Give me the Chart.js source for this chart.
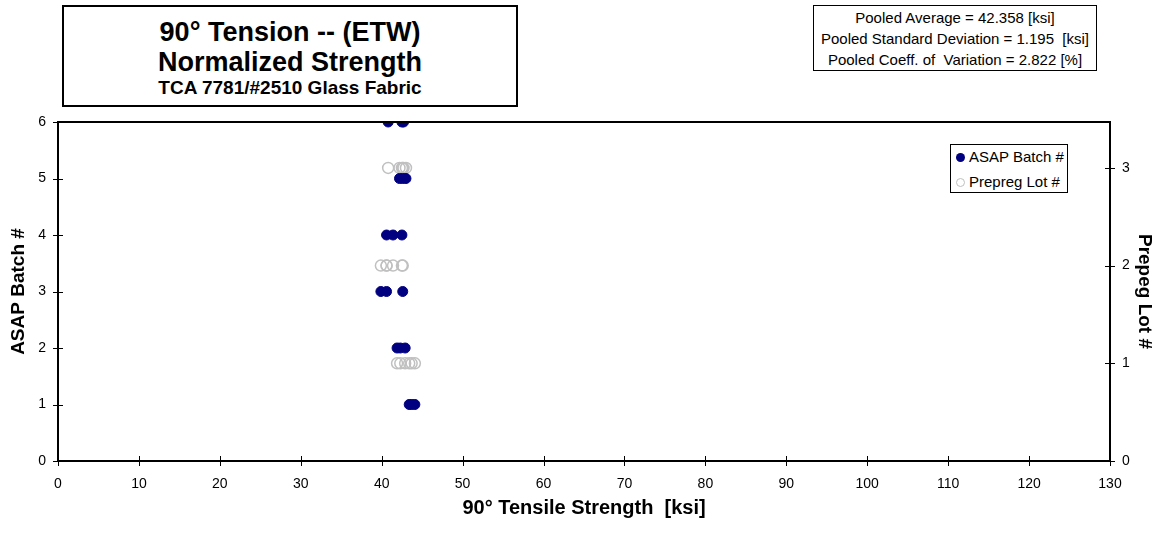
<!DOCTYPE html>
<html>
<head>
<meta charset="utf-8">
<script src="https://cdn.jsdelivr.net/npm/chart.js@4.4.0/dist/chart.umd.min.js"></script>
<style>
  body { margin: 0; background: #fff; font-family: "Liberation Sans", Arial, sans-serif; }
  #wrap { position: relative; width: 1160px; height: 534px; }
  #c { position: absolute; left: 0; top: 0; }
  .box { position: absolute; border: 2px solid #000; background: #fff; box-sizing: border-box; text-align: center; color: #000; }
  #titleBox { left: 62px; top: 5px; width: 456px; height: 102px; font-weight: bold; }
  #titleBox .l1 { position: absolute; left: 0; right: 0; top: 10px; font-size: 27px; line-height: 30px; }
  #titleBox .l2 { position: absolute; left: 0; right: 0; top: 40px; font-size: 27px; line-height: 30px; }
  #titleBox .l3 { position: absolute; left: 0; right: 0; top: 70px; font-size: 19px; line-height: 22px; }
  #statBox { left: 813px; top: 5px; width: 284px; height: 66px; border-width: 1.5px; font-size: 15px; white-space: pre; }
  #statBox div { position: absolute; left: 0; right: 0; line-height: 18px; }
  #legendBox { left: 950px; top: 144px; width: 118px; height: 49px; border-width: 1.5px; font-size: 15px; text-align: left; }
  #legendBox .row { position: absolute; left: 5px; height: 18px; line-height: 18px; white-space: nowrap; }
  #legendBox .mk { display: inline-block; width: 9px; height: 9px; border-radius: 50%; box-sizing: border-box; margin-right: 4px; vertical-align: 0px; }
</style>
</head>
<body>
<div id="wrap">
  <canvas id="c" width="1160" height="534"></canvas>
  <div id="titleBox" class="box">
    <div class="l1">90° Tension -- (ETW)</div>
    <div class="l2">Normalized Strength</div>
    <div class="l3">TCA 7781/#2510 Glass Fabric</div>
  </div>
  <div id="statBox" class="box"></div>
  <div id="legendBox" class="box"></div>
</div>
<script>
// ASAP batch points (strength in ksi, batch number on left axis)
var batchStrength = [40.8, 42.5, 42.7, 42.2, 42.6, 43.0, 40.6, 41.4, 42.5, 39.9, 40.6, 42.6, 41.9, 42.3, 42.9, 43.4, 43.7, 44.1];
var batchNum      = [6, 6, 6, 5, 5, 5, 4, 4, 4, 3, 3, 3, 2, 2, 2, 1, 1, 1];

// Prepreg lot points (strength in ksi, lot number on right axis)
var lotStrength = [40.8, 42.2, 42.5, 42.6, 42.7, 43.0, 39.9, 40.6, 40.6, 41.4, 42.5, 42.6, 41.9, 42.3, 42.9, 43.4, 43.7, 44.1];
var lotNum      = [3, 3, 3, 3, 3, 3, 2, 2, 2, 2, 2, 2, 1, 1, 1, 1, 1, 1];

var statLines = [
  'Pooled Average = 42.358 [ksi]',
  'Pooled Standard Deviation = 1.195  [ksi]',
  'Pooled Coeff. of  Variation = 2.822 [%]'
];

var FONT = '"Liberation Sans", Arial, sans-serif';
Chart.defaults.font.family = FONT;
Chart.defaults.color = '#000';

function toPoints(xs, ys) {
  var pts = [];
  for (var i = 0; i < xs.length; i++) pts.push({x: xs[i], y: ys[i]});
  return pts;
}

// stats text
var statBox = document.getElementById('statBox');
var statTops = [3, 24, 45];
statLines.forEach(function (t, i) {
  var d = document.createElement('div');
  d.textContent = t;
  d.style.top = statTops[i] + 'px';
  statBox.appendChild(d);
});

// frame round the plot and tick marks that cross the axis lines
var framePlugin = {
  id: 'frame',
  afterDraw: function (chart) {
    var ctx = chart.ctx, a = chart.chartArea;
    ctx.save();
    ctx.strokeStyle = '#000';
    ctx.lineWidth = 2;
    ctx.strokeRect(a.left, a.top, a.right - a.left, a.bottom - a.top);
    ctx.lineWidth = 1;
    ctx.beginPath();
    chart.scales.x.ticks.forEach(function (t) {
      var px = Math.round(chart.scales.x.getPixelForValue(t.value)) + 0.5;
      ctx.moveTo(px, a.bottom - 5); ctx.lineTo(px, a.bottom + 5);
    });
    chart.scales.y.ticks.forEach(function (t) {
      var py = Math.round(chart.scales.y.getPixelForValue(t.value)) + 0.5;
      ctx.moveTo(a.left - 5, py); ctx.lineTo(a.left + 5, py);
    });
    chart.scales.y2.ticks.forEach(function (t) {
      var py = Math.round(chart.scales.y2.getPixelForValue(t.value)) + 0.5;
      ctx.moveTo(a.right - 5, py); ctx.lineTo(a.right + 5, py);
    });
    ctx.stroke();
    ctx.restore();
  }
};

var chart = new Chart(document.getElementById('c').getContext('2d'), {
  type: 'scatter',
  data: {
    datasets: [{
      label: 'ASAP Batch #',
      data: toPoints(batchStrength, batchNum),
      yAxisID: 'y',
      backgroundColor: '#000080',
      borderColor: '#000080',
      pointRadius: 5,
      pointHoverRadius: 5,
      order: 1
    }, {
      label: 'Prepreg Lot #',
      data: toPoints(lotStrength, lotNum),
      yAxisID: 'y2',
      backgroundColor: 'rgba(255,255,255,0)',
      borderColor: '#c0c0c0',
      borderWidth: 1.5,
      pointRadius: 5.5,
      pointHoverRadius: 5.5,
      order: 2
    }]
  },
  options: {
    responsive: false,
    animation: false,
    layout: { padding: { top: 122, left: 0, right: 0, bottom: 0 } },
    plugins: { legend: { display: false }, tooltip: { enabled: false } },
    scales: {
      x: {
        type: 'linear', position: 'bottom', min: 0, max: 130,
        ticks: { stepSize: 10, padding: 7, font: { size: 14 }, maxRotation: 0 },
        grid: { display: false },
        border: { display: false },
        title: { display: true, text: '90° Tensile Strength  [ksi]', font: { size: 20, weight: 'bold' }, padding: { top: 0, bottom: 14 } },
        afterFit: function (s) { s.height = 73; }
      },
      y: {
        type: 'linear', position: 'left', min: 0, max: 6,
        ticks: { stepSize: 1, padding: 4, font: { size: 14 } },
        grid: { display: false },
        border: { display: false },
        title: { display: true, text: 'ASAP Batch #', font: { size: 19, weight: 'bold' }, padding: { top: 7, bottom: 0 } },
        afterFit: function (s) { s.width = 58; }
      },
      y2: {
        type: 'linear', position: 'right', min: 0, max: 3.47,
        ticks: { stepSize: 1, padding: 4, font: { size: 14 }, includeBounds: false },
        grid: { display: false },
        border: { display: false },
        title: { display: true, text: 'Prepeg Lot #', font: { size: 19, weight: 'bold' }, padding: { top: 4, bottom: 0 } },
        afterFit: function (s) { s.width = 50; }
      }
    }
  },
  plugins: [framePlugin]
});

// legend built from the datasets
var legendBox = document.getElementById('legendBox');
var rowTops = [3, 28];
chart.data.datasets.forEach(function (ds, i) {
  var row = document.createElement('div');
  row.className = 'row';
  row.style.top = rowTops[i] + 'px';
  var mk = document.createElement('span');
  mk.className = 'mk';
  if (i === 0) {
    mk.style.background = ds.backgroundColor;
  } else {
    mk.style.border = '1.5px solid ' + ds.borderColor;
  }
  row.appendChild(mk);
  row.appendChild(document.createTextNode(ds.label));
  legendBox.appendChild(row);
});
</script>
</body>
</html>
